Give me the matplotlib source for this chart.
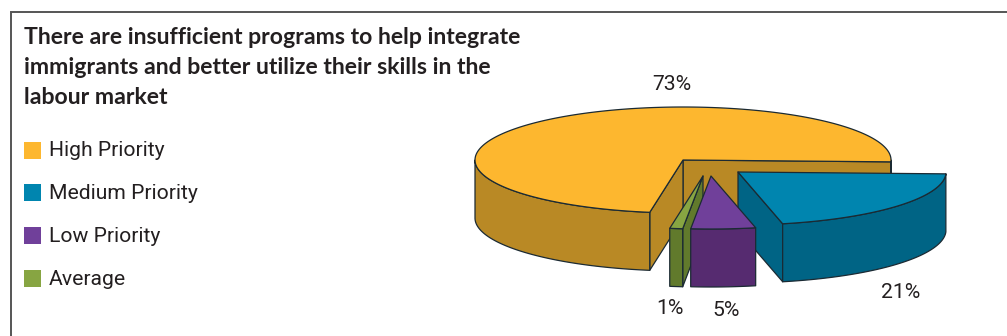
import numpy as np
import matplotlib
matplotlib.use('Agg')
import matplotlib.pyplot as plt
from matplotlib.patches import Polygon, Rectangle

title_lines = ['There are insufficient programs to help integrate',
               'immigrants and better utilize their skills in the',
               'labour market']
categories = ['High Priority', 'Average', 'Low Priority', 'Medium Priority']
values = [73, 1, 5, 21]
legend_order = ['High Priority', 'Medium Priority', 'Low Priority', 'Average']

top_colors = {'High Priority': '#FDB72F', 'Medium Priority': '#0085AF',
              'Low Priority': '#70409A', 'Average': '#87A542'}
side_colors = {'High Priority': '#B98925', 'Medium Priority': '#006485',
               'Low Priority': '#562B70', 'Average': '#617A2C'}
# apex of each exploded slice, in pixels
apex = {'High Priority': (683, 160), 'Medium Priority': (738, 172),
        'Low Priority': (711, 176), 'Average': (703, 176)}
label_pos = {'High Priority': (672, 84), 'Medium Priority': (901, 293),
             'Low Priority': (726, 310), 'Average': (670, 308)}
# back slices are painted first
draw_order = ['High Priority', 'Medium Priority', 'Average', 'Low Priority']

RX, RY, DEPTH = 208, 53, 58
START = -2
INK = '#231F20'
EDGE = '#1B2A33'

plt.rcParams['font.family'] = ['Lato', 'DejaVu Sans']

fig = plt.figure(figsize=(10.07, 3.36), dpi=100)
ax = fig.add_axes([0, 0, 1, 1])
ax.set_xlim(0, 1007)
ax.set_ylim(336, 0)
ax.axis('off')

# frame: only top and left edges fall inside the figure
ax.plot([1007, 10.5, 10.5], [12, 12, 336], color='#555555', lw=1.4, solid_joinstyle='miter')

for i, line in enumerate(title_lines):
    ax.text(24, 38 + i * 29.5, line, fontsize=16.6, fontweight='bold', color=INK, va='center')

for i, name in enumerate(legend_order):
    y = 150 + i * 42.8
    ax.add_patch(Rectangle((24, y - 8.5), 17, 17, fc=top_colors[name], ec='none'))
    ax.text(49, y + 1, name, fontsize=15.2, color=INK, va='center', family=['Roboto', 'DejaVu Sans'])


def rim(cx, cy, a0, a1, dy=0):
    t = np.radians(np.linspace(a0, a1, max(int(abs(a1 - a0)) * 2, 2)))
    return np.column_stack([cx + RX * np.cos(t), cy - RY * np.sin(t) + dy])


def face(pts, color, z):
    ax.add_patch(Polygon(pts, closed=True, fc=color, ec=EDGE, lw=0.9, joinstyle='round', zorder=z))


# slice angles run counterclockwise in category order
bounds = START + np.cumsum([0] + values) * 3.6
spans = {name: (bounds[i], bounds[i + 1]) for i, name in enumerate(categories)}

for z, name in enumerate(draw_order):
    a0, a1 = spans[name]
    cx, cy = apex[name]
    side = side_colors[name]
    zb = 2 + z * 5
    # radial walls, only those turned toward the viewer
    if np.cos(np.radians(a0)) > 0:
        p = rim(cx, cy, a0, a0 + 0.01)[0]
        face([(cx, cy), p, p + (0, DEPTH), (cx, cy + DEPTH)], side, zb)
    if np.cos(np.radians(a1)) < 0:
        p = rim(cx, cy, a1, a1 + 0.01)[0]
        face([(cx, cy), p, p + (0, DEPTH), (cx, cy + DEPTH)], side, zb)
    # outer wall on the front half of the rim
    for lo, hi in [(-180, 0), (180, 360)]:
        b0, b1 = max(a0, lo), min(a1, hi)
        if b1 > b0:
            upper = rim(cx, cy, b0, b1)
            lower = rim(cx, cy, b1, b0, DEPTH)
            face(np.vstack([upper, lower]), side, zb + 1)
    face(np.vstack([[(cx, cy)], rim(cx, cy, a0, a1)]), top_colors[name], zb + 2)

    lx, ly = label_pos[name]
    ax.text(lx, ly, f'{values[categories.index(name)]}%', fontsize=15.2, color=INK,
            ha='center', va='center', zorder=40, family=['Roboto', 'DejaVu Sans'])

fig.savefig('out.png', dpi=100)
